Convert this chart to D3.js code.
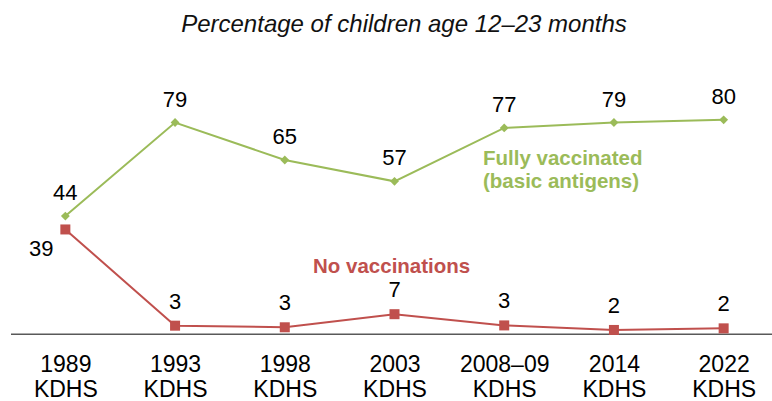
<!DOCTYPE html>
<html>
<head>
<meta charset="utf-8">
<script src="https://cdn.jsdelivr.net/npm/d3@7"></script>
<style>
  html, body { margin: 0; padding: 0; background: #fff; }
  svg { display: block; font-family: "Liberation Sans", Arial, sans-serif; }
</style>
</head>
<body>
<svg id="chart" width="772" height="401"></svg>
<script>
// ---- Data ----
const categories = ["1989 KDHS", "1993 KDHS", "1998 KDHS", "2003 KDHS", "2008–09 KDHS", "2014 KDHS", "2022 KDHS"];
const yearLabels = ["1989", "1993", "1998", "2003", "2008–09", "2014", "2022"];
const surveyLabels = ["KDHS", "KDHS", "KDHS", "KDHS", "KDHS", "KDHS", "KDHS"];
const fullyVaccinated = [44, 79, 65, 57, 77, 79, 80];
const fullyVaccinatedLabels = ["44", "79", "65", "57", "77", "79", "80"];
const noVaccinations = [39, 3.0, 2.4, 7.3, 3.1, 1.4, 2.0];
const noVaccinationsLabels = ["39", "3", "3", "7", "3", "2", "2"];
const title = "Percentage of children age 12–23 months";

const green = "#9BBB59";
const red = "#C0504D";

const svg = d3.select("#chart");

const x = d3.scalePoint().domain(categories).range([10.5, 778.5]).padding(0.5);
const y = d3.scaleLinear().domain([0, 100]).range([333.7, 66.4]);

// Title
svg.append("text")
  .attr("x", 404).attr("y", 32)
  .attr("text-anchor", "middle")
  .attr("font-size", 24)
  .attr("font-style", "italic")
  .attr("fill", "#111")
  .text(title);

// Axis
const axis = d3.axisBottom(x).tickSize(0).tickSizeOuter(0).tickFormat("");
const gAxis = svg.append("g").attr("transform", `translate(0,${y(0)})`).call(axis);
gAxis.select(".domain").attr("stroke", "#595959").attr("stroke-width", 1.6);
gAxis.selectAll(".tick").each(function(d, i) {
  const t = d3.select(this).append("text")
    .attr("text-anchor", "middle")
    .attr("fill", "#000")
    .attr("font-size", 23);
  t.append("tspan").attr("x", 0).attr("y", 38).text(yearLabels[i]);
  t.append("tspan").attr("x", 0).attr("y", 63).text(surveyLabels[i]);
});

const line = d3.line().x((d, i) => x(categories[i])).y(d => y(d));

// Fully vaccinated series
svg.append("path").datum(fullyVaccinated)
  .attr("d", line).attr("fill", "none")
  .attr("stroke", green).attr("stroke-width", 2);
svg.selectAll(".gm").data(fullyVaccinated).enter().append("path")
  .attr("d", d3.symbol().type(d3.symbolDiamond2).size(50))
  .attr("transform", (d, i) => `translate(${x(categories[i])},${y(d)})`)
  .attr("fill", green);
svg.selectAll(".gl").data(fullyVaccinated).enter().append("text")
  .attr("x", (d, i) => x(categories[i]))
  .attr("y", d => y(d) - 16)
  .attr("text-anchor", "middle")
  .attr("font-size", 22)
  .attr("fill", "#000")
  .text((d, i) => fullyVaccinatedLabels[i]);

// No vaccinations series
svg.append("path").datum(noVaccinations)
  .attr("d", line).attr("fill", "none")
  .attr("stroke", red).attr("stroke-width", 2);
svg.selectAll(".rm").data(noVaccinations).enter().append("rect")
  .attr("x", (d, i) => x(categories[i]) - 5)
  .attr("y", d => y(d) - 5)
  .attr("width", 10).attr("height", 10)
  .attr("fill", red);
svg.selectAll(".rl").data(noVaccinations).enter().append("text")
  .attr("x", (d, i) => x(categories[i]) + (i === 0 ? -24 : 0))
  .attr("y", (d, i) => i === 0 ? y(d) + 27 : y(d) - 17)
  .attr("text-anchor", "middle")
  .attr("font-size", 22)
  .attr("fill", "#000")
  .text((d, i) => noVaccinationsLabels[i]);

// Series labels
const fl = svg.append("text")
  .attr("font-size", 20.5).attr("font-weight", "bold").attr("fill", green);
fl.append("tspan").attr("x", 483).attr("y", 165).text("Fully vaccinated");
fl.append("tspan").attr("x", 483).attr("y", 188).text("(basic antigens)");

svg.append("text")
  .attr("x", 313).attr("y", 273)
  .attr("font-size", 20.5).attr("font-weight", "bold").attr("fill", red)
  .text("No vaccinations");
</script>
</body>
</html>
